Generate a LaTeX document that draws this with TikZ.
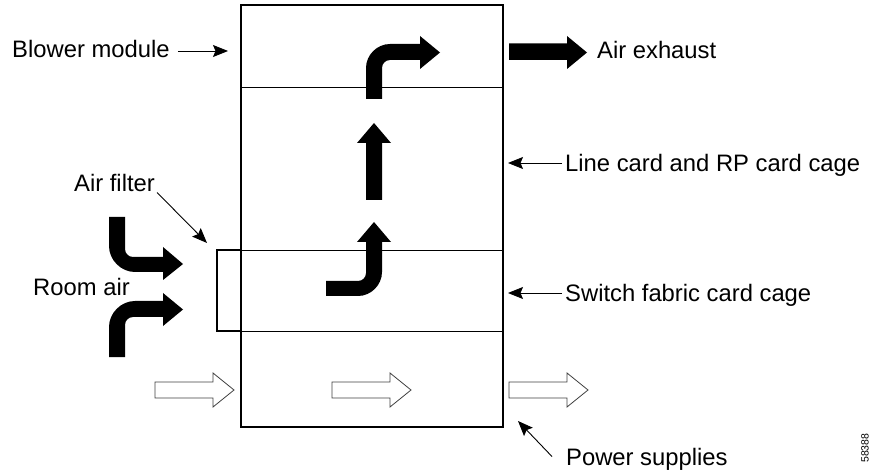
\documentclass[tikz,border=0pt]{standalone}
\usepackage{fontspec}
\setmainfont{Liberation Sans}
\usetikzlibrary{arrows.meta}
\begin{document}
\begin{tikzpicture}[x=1pt,y=-1pt,
  lbl/.style={line width=0.9pt,-{Stealth[length=15pt,width=12pt,inset=2.5pt]}},
  txt/.style={anchor=base west,inner sep=3pt,font=\fontsize{23.8}{28}\selectfont},
  boxline/.style={line width=1.3pt},
  divline/.style={line width=0.8pt},
  solidarrow/.style={fill=black},
  hollowarrow/.style={draw=black!75,fill=white,line width=0.8pt}]
\useasboundingbox (0,0) rectangle (870,470);
% chassis
\draw[boxline] (241,5) rectangle (503,427);
\draw[divline] (241,87) -- (503,87);
\draw[divline] (241,250) -- (503,250);
\draw[divline] (241,331) -- (503,331);
% air filter
\draw[line width=1.5pt] (241,250) -- (217,250) -- (217,331) -- (241,331);
% coordinates on chassis for label tips
\coordinate (tipBM) at (228,51);
\coordinate (tipLC) at (508,163);
\coordinate (tipSF) at (508,293);
\coordinate (tipAF) at (207,243);
\coordinate (tipPS) at (518,421);
% labels
\node[txt] (bm) at (9,57.5) {Blower module};
\node[txt] (ae) at (594,59) {Air exhaust};
\node[txt] (lc) at (562,171.5) {Line card and RP card cage};
\node[txt] (sf) at (562,301.5) {Switch fabric card cage};
\node[txt] (af) at (71,191.5) {Air filter};
\node[txt] (ra) at (30,295) {Room air};
\node[txt] (ps) at (563,465) {Power supplies};
\node[rotate=90,anchor=south west,inner sep=0pt,font=\fontsize{10.5}{12}\selectfont] (fig) at (869,463) {58388};
% label arrows
\draw[lbl] ([xshift=5pt]bm.east |- tipBM) -- (tipBM);
\draw[lbl] (lc.west |- tipLC) -- (tipLC);
\draw[lbl] (sf.west |- tipSF) -- (tipSF);
\draw[lbl] ([xshift=-1pt,yshift=-1pt]af.base east) -- (tipAF);
\draw[lbl] ([xshift=-11pt,yshift=-12pt]ps.north west) -- (tipPS);
% blower curved arrow
\fill[solidarrow] (366,99) -- (366,68) .. controls (366,55) and (377,44) .. (390,44)
  -- (420,44) -- (420,36) -- (440,52.5) -- (420,69) -- (420,60) -- (390,60)
  .. controls (385.6,60) and (382,63.6) .. (382,68) -- (382,99) -- cycle;
% air exhaust
\fill[solidarrow] (509,43.5) -- (567,43.5) -- (567,36) -- (587,52.5) -- (567,69) -- (567,60) -- (509,60) -- cycle;
% line card straight arrow
\fill[solidarrow] (366,200) -- (366,143) -- (357,143) -- (374,123) -- (391,143) -- (382,143) -- (382,200) -- cycle;
% switch fabric arrow
\fill[solidarrow] (374,222) -- (391,242) -- (382,242) -- (382,272)
  .. controls (382,285) and (371,296) .. (358,296) -- (326,296) -- (326,281) -- (358,281)
  .. controls (362.4,281) and (366,277.4) .. (366,273) -- (366,242) -- (357,242) -- cycle;
% room air upper
\fill[solidarrow] (109,217) -- (109,246) .. controls (109,260) and (121,272) .. (135,272)
  -- (163,272) -- (163,280) -- (183,264) -- (163,247) -- (163,257) -- (133,257)
  .. controls (128.6,257) and (125,253.4) .. (125,249) -- (125,217) -- cycle;
% room air lower
\fill[solidarrow] (109,357) -- (109,327) .. controls (109,313) and (121,301) .. (135,301)
  -- (163,301) -- (163,293) -- (183,309.5) -- (163,326) -- (163,317) -- (133,317)
  .. controls (128.6,317) and (125,320.6) .. (125,325) -- (125,357) -- cycle;
% hollow arrows (power supplies airflow)
\draw[hollowarrow] (155,382) -- (213,382) -- (213,373) -- (234,390) -- (213,407) -- (213,398) -- (155,398) -- cycle;
\draw[hollowarrow] (332,382) -- (390,382) -- (390,373) -- (411,390) -- (390,407) -- (390,398) -- (332,398) -- cycle;
\draw[hollowarrow] (509,382) -- (567,382) -- (567,373) -- (588,390) -- (567,407) -- (567,398) -- (509,398) -- cycle;
\end{tikzpicture}
\end{document}
